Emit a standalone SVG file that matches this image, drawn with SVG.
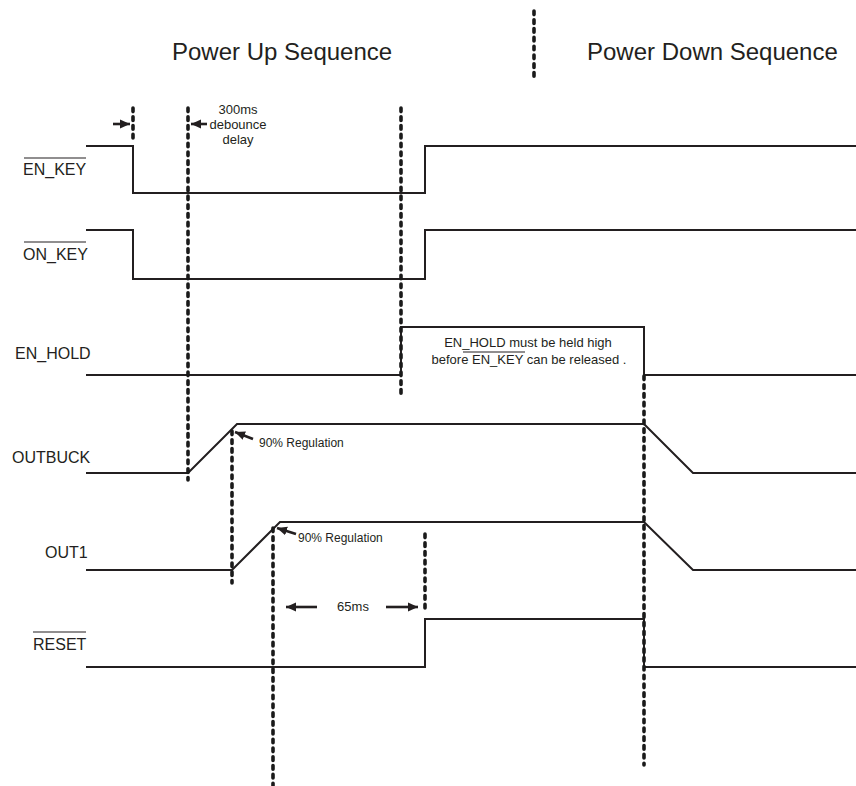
<svg xmlns="http://www.w3.org/2000/svg" width="856" height="786" viewBox="0 0 856 786">
<defs>
<style>
.t{font-family:"Liberation Sans",Arial,sans-serif;fill:#231f20}
.title{font-size:24px}
.lbl{font-size:16px}
.note{font-size:13px}
.reg{font-size:12px}
.sig{fill:none;stroke:#231f20;stroke-width:2;stroke-linejoin:miter}
.dash{fill:none;stroke:#1a1a1a;stroke-width:3.6;stroke-dasharray:3.6 5.2;stroke-linecap:round}
.ov{stroke:#231f20;stroke-width:1.2}
.arr{fill:none;stroke:#231f20;stroke-width:2.6;marker-end:url(#ah)}
</style>
<marker id="ah" markerUnits="userSpaceOnUse" markerWidth="12" markerHeight="12" viewBox="0 0 12 12" refX="10" refY="6" orient="auto">
<path d="M0,1.5 L10,6 L0,10.5 Z" fill="#231f20"/>
</marker>
</defs>
<rect width="856" height="786" fill="#fff"/>

<g id="titles">
<text class="t title" x="172" y="60">Power Up Sequence</text>
<text class="t title" x="587" y="60">Power Down Sequence</text>
</g>

<g id="sig-en-key">
<text class="t lbl" x="23" y="175">EN_KEY</text>
<line class="ov" x1="24" y1="158" x2="86" y2="158"/>
<path class="sig" d="M86,146 H133 V193 H425 V146 H856"/>
</g>
<g id="sig-on-key">
<text class="t lbl" x="23" y="260">ON_KEY</text>
<line class="ov" x1="24" y1="242" x2="86" y2="242"/>
<path class="sig" d="M86,230 H133 V279 H425 V230 H856"/>
</g>
<g id="sig-en-hold">
<text class="t lbl" x="15" y="359">EN_HOLD</text>
<path class="sig" d="M86,375 H401 V327 H644 V375 H856"/>
<text class="t note" x="528" y="347" text-anchor="middle">EN_HOLD must be held high</text>
<text class="t note" x="529" y="364" text-anchor="middle">before EN_KEY can be released .</text>
<line class="ov" x1="463" y1="352" x2="525" y2="352"/>
</g>
<g id="sig-outbuck">
<text class="t lbl" x="12" y="463">OUTBUCK</text>
<path class="sig" d="M86,473 H188 L237,424 H644 L693,473 H856"/>
</g>
<g id="sig-out1">
<text class="t lbl" x="45" y="558">OUT1</text>
<path class="sig" d="M86,570 H232 L280,522 H644 L693,570 H856"/>
</g>
<g id="sig-reset">
<text class="t lbl" x="33" y="650">RESET</text>
<line class="ov" x1="33" y1="632" x2="86" y2="632"/>
<path class="sig" d="M86,667 H425 V619 H644 V667 H856"/>
</g>

<g id="markers">
<line class="dash" x1="534" y1="11" x2="534" y2="79"/>
<line class="dash" x1="133" y1="108" x2="133" y2="141"/>
<line class="dash" x1="188" y1="108" x2="188" y2="480"/>
<line class="dash" x1="401" y1="108" x2="401" y2="397"/>
<line class="dash" x1="232" y1="431" x2="232" y2="583"/>
<line class="dash" x1="273" y1="528" x2="273" y2="790"/>
<line class="dash" x1="425" y1="534" x2="425" y2="613"/>
<line class="dash" x1="644" y1="376" x2="644" y2="765"/>
</g>

<g id="annotations">
<line class="arr" x1="113" y1="124" x2="130" y2="124"/>
<line class="arr" x1="207" y1="124" x2="191" y2="124"/>
<text class="t note" x="238" y="114" text-anchor="middle">300ms</text>
<text class="t note" x="238" y="129" text-anchor="middle">debounce</text>
<text class="t note" x="238" y="144" text-anchor="middle">delay</text>
<line class="arr" x1="253" y1="439" x2="235" y2="432"/>
<text class="t reg" x="259" y="447">90% Regulation</text>
<line class="arr" x1="296" y1="534" x2="277" y2="528"/>
<text class="t reg" x="298" y="542">90% Regulation</text>
<line class="arr" x1="317" y1="607" x2="286" y2="607"/>
<line class="arr" x1="386" y1="607" x2="418" y2="607"/>
<text class="t note" x="353" y="611" text-anchor="middle">65ms</text>
</g>
</svg>
